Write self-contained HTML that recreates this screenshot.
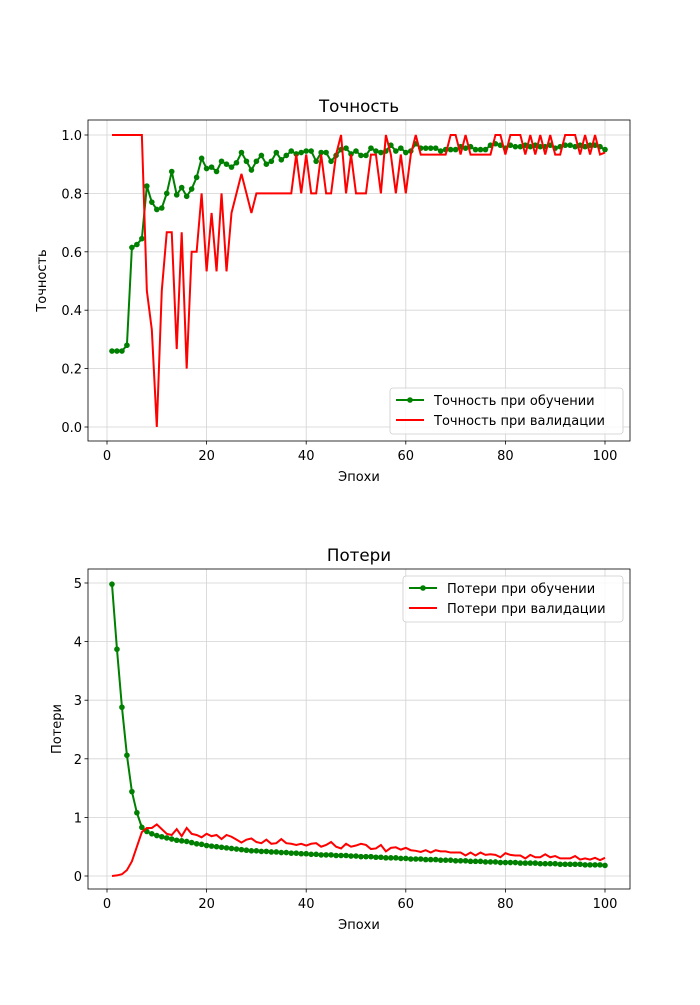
<!DOCTYPE html>
<html><head><meta charset="utf-8"><style>
body{margin:0;background:#fff}
svg text{font-family:"DejaVu Sans","Liberation Sans",sans-serif;fill:#000}
</style></head><body>
<svg id="fig" width="700" height="1000" xmlns="http://www.w3.org/2000/svg"></svg>
<script>
const epochs = Array.from({length:100},(_,i)=>i+1);
const trainAcc = [0.26,0.26,0.26,0.28,0.615,0.625,0.645,0.825,0.77,0.745,0.75,0.8,0.875,0.795,0.82,0.79,0.815,0.855,0.92,0.885,
0.89,0.875,0.91,0.9,0.89,0.905,0.94,0.91,0.88,0.91,0.93,0.9,0.91,0.94,0.915,0.93,0.945,0.935,0.94,0.945,
0.945,0.91,0.94,0.94,0.91,0.93,0.95,0.955,0.935,0.945,0.93,0.93,0.955,0.945,0.94,0.945,0.965,0.945,0.955,0.94,
0.945,0.97,0.955,0.955,0.955,0.955,0.945,0.95,0.95,0.95,0.96,0.955,0.96,0.95,0.95,0.95,0.965,0.97,0.965,0.955,
0.965,0.96,0.96,0.965,0.96,0.965,0.96,0.96,0.965,0.955,0.96,0.965,0.965,0.96,0.965,0.96,0.965,0.965,0.96,0.95];
const valAcc = [1,1,1,1,1,1,1,0.467,0.333,0,0.467,0.667,0.667,0.267,0.667,0.2,0.6,0.6,0.8,0.533,
0.733,0.533,0.8,0.533,0.733,0.8,0.867,0.8,0.733,0.8,0.8,0.8,0.8,0.8,0.8,0.8,0.8,0.933,0.8,0.933,
0.8,0.8,0.933,0.8,0.8,0.933,1,0.8,0.933,0.8,0.8,0.8,0.933,0.933,0.8,1,0.933,0.8,0.933,0.8,
0.933,1,0.933,0.933,0.933,0.933,0.933,0.933,1,1,0.933,1,0.933,0.933,0.933,0.933,0.933,1,1,0.933,
1,1,1,0.933,1,0.933,1,0.933,1,0.933,0.933,1,1,1,0.933,1,0.933,1,0.933,0.94];
const trainLoss = [4.98,3.87,2.88,2.06,1.44,1.08,0.83,0.76,0.72,0.69,0.67,0.65,0.63,0.61,0.60,0.59,0.57,0.55,0.54,0.52,
0.51,0.50,0.49,0.48,0.47,0.46,0.45,0.44,0.43,0.43,0.42,0.42,0.41,0.41,0.40,0.40,0.39,0.39,0.38,0.38,
0.37,0.37,0.36,0.36,0.36,0.35,0.35,0.35,0.34,0.34,0.33,0.33,0.33,0.32,0.32,0.31,0.31,0.31,0.30,0.30,
0.29,0.29,0.29,0.28,0.28,0.28,0.27,0.27,0.27,0.26,0.26,0.26,0.25,0.25,0.25,0.24,0.24,0.24,0.23,0.23,
0.23,0.23,0.22,0.22,0.22,0.22,0.21,0.21,0.21,0.21,0.20,0.20,0.20,0.20,0.20,0.19,0.19,0.19,0.19,0.18];
const valLoss = [0,0.01,0.03,0.1,0.25,0.5,0.75,0.82,0.82,0.88,0.8,0.72,0.7,0.8,0.68,0.82,0.72,0.7,0.66,0.72,
0.68,0.70,0.63,0.70,0.67,0.62,0.57,0.62,0.64,0.58,0.56,0.62,0.55,0.56,0.63,0.56,0.55,0.53,0.55,0.52,
0.55,0.56,0.50,0.53,0.58,0.50,0.47,0.55,0.50,0.52,0.55,0.53,0.46,0.47,0.53,0.42,0.48,0.49,0.45,0.48,
0.44,0.43,0.41,0.44,0.40,0.44,0.42,0.42,0.40,0.40,0.40,0.35,0.40,0.35,0.40,0.36,0.37,0.36,0.32,0.39,
0.36,0.35,0.35,0.30,0.36,0.32,0.32,0.37,0.32,0.34,0.30,0.30,0.30,0.34,0.28,0.30,0.28,0.31,0.27,0.31];
const xTicks = [0,20,40,60,80,100];
const accTicks = [0,0.2,0.4,0.6,0.8,1.0];
const lossTicks = [0,1,2,3,4,5];

const NS="http://www.w3.org/2000/svg";
const svg=document.getElementById('fig');
function mk(tag,attrs,parent){const e=document.createElementNS(NS,tag);for(const k in attrs)e.setAttribute(k,attrs[k]);(parent||svg).appendChild(e);return e;}
const FS=13, TFS=16.7;

function panel(o){
  const g=mk('g',{});
  
  
  const X=v=>o.x0+(v-o.xmin)/(o.xmax-o.xmin)*(o.x1-o.x0);
  const Y=v=>o.y0-(v-o.ymin)/(o.ymax-o.ymin)*(o.y0-o.y1);
  const L=88,R=630,T=o.top,B=o.bot;
  xTicks.forEach(t=>{mk('line',{x1:X(t),x2:X(t),y1:T,y2:B,stroke:'#d3d3d3','stroke-width':0.8},g);
    mk('line',{x1:X(t),x2:X(t),y1:B,y2:B+3.5,stroke:'#000','stroke-width':0.8},g);
    const tx=mk('text',{x:X(t),y:B+19,'font-size':FS,'text-anchor':'middle'},g);tx.textContent=t;
    
    });
  o.yt.forEach(t=>{mk('line',{x1:L,x2:R,y1:Y(t),y2:Y(t),stroke:'#d3d3d3','stroke-width':0.8},g);
    mk('line',{x1:L-3.5,x2:L,y1:Y(t),y2:Y(t),stroke:'#000','stroke-width':0.8},g);
    const tx=mk('text',{x:L-6,y:Y(t)+5,'font-size':FS,'text-anchor':'end'},g);tx.textContent=o.fmt(t);
    
    });
  const p1=epochs.map((e,i)=>X(e)+','+Y(o.s1[i])).join(' ');
  const l1=mk('polyline',{points:p1,fill:'none',stroke:'#008000','stroke-width':2},g);
  
  
  epochs.forEach((e,i)=>{const c=mk('circle',{cx:X(e),cy:Y(o.s1[i]),r:2.8,fill:'#008000'},g);
    
    });
  const p2=epochs.map((e,i)=>X(e)+','+Y(o.s2[i])).join(' ');
  const l2=mk('polyline',{points:p2,fill:'none',stroke:'#ff0000','stroke-width':2},g);
  
  
  mk('rect',{x:L,y:T,width:R-L,height:B-T,fill:'none',stroke:'#000','stroke-width':0.8},g);
  const ti=mk('text',{x:(L+R)/2,y:T-8,'font-size':TFS,'text-anchor':'middle'},g);ti.textContent=o.title;
  
  
  const xl=mk('text',{x:(L+R)/2,y:B+40,'font-size':FS,'text-anchor':'middle'},g);xl.textContent='Эпохи';
  
  
  const yl=mk('text',{x:0,y:0,'font-size':FS,'text-anchor':'middle',transform:`translate(${o.ylx},${(T+B)/2}) rotate(-90)`},g);yl.textContent=o.title;
  
  
  const lg=mk('g',{},g);
  
  
  mk('rect',{x:o.lx,y:o.ly,width:R-7-o.lx,height:46,rx:3,fill:'#fff','fill-opacity':0.8,stroke:'#ccc','stroke-width':0.8},lg);
  mk('line',{x1:o.lx+6,x2:o.lx+34,y1:o.ly+12,y2:o.ly+12,stroke:'#008000','stroke-width':2},lg);
  mk('circle',{cx:o.lx+20,cy:o.ly+12,r:2.8,fill:'#008000'},lg);
  mk('line',{x1:o.lx+6,x2:o.lx+34,y1:o.ly+32,y2:o.ly+32,stroke:'#ff0000','stroke-width':2},lg);
  const a=mk('text',{x:o.lx+44,y:o.ly+17,'font-size':FS},lg);a.textContent=o.lab1;
  
  
  const b=mk('text',{x:o.lx+44,y:o.ly+37,'font-size':FS},lg);b.textContent=o.lab2;
  
  
}
panel({name:'accuracy-chart',top:120,bot:441,x0:107,x1:605,xmin:0,xmax:100,y0:427,y1:135,ymin:0,ymax:1,
  yt:accTicks,fmt:t=>t.toFixed(1),s1:trainAcc,s2:valAcc,title:'Точность',ylx:46,lx:390,ly:388,
  lab1:'Точность при обучении',lab2:'Точность при валидации'});
panel({name:'loss-chart',top:569,bot:889,x0:107,x1:605,xmin:0,xmax:100,y0:876,y1:583,ymin:0,ymax:5,
  yt:lossTicks,fmt:t=>String(t),s1:trainLoss,s2:valLoss,title:'Потери',ylx:61,lx:403,ly:576,
  lab1:'Потери при обучении',lab2:'Потери при валидации'});
</script>
</body></html>
